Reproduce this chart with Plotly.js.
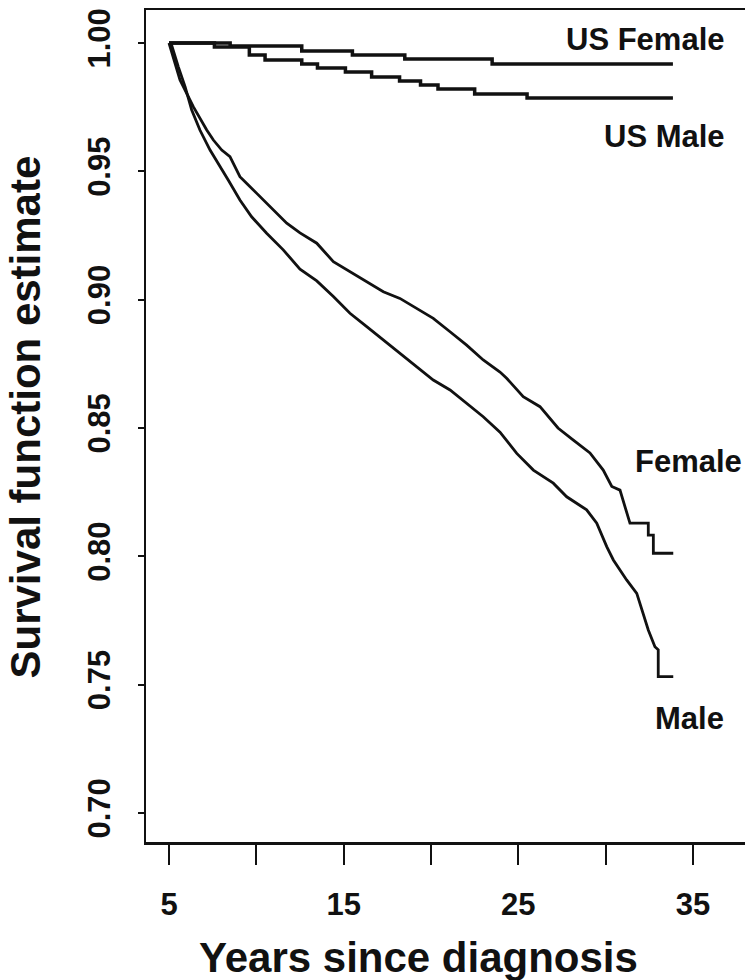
<!DOCTYPE html>
<html>
<head>
<meta charset="utf-8">
<script src="https://cdn.plot.ly/plotly-3.0.1.min.js"></script>
<style>
  html, body { margin: 0; padding: 0; background: #ffffff; }
  #chart { width: 745px; height: 980px; }
</style>
</head>
<body>
<div id="chart"></div>
<script>
// Kaplan-Meier survival estimates, conditional on surviving 5 years
const femaleYears = [5.00, 5.63, 6.39, 6.77, 7.16, 7.54, 8.02, 8.49, 9.06, 9.54, 10.02, 10.78, 11.74, 12.50, 13.46, 14.41, 15.36, 16.32, 17.27, 18.22, 19.18, 20.13, 21.09, 22.04, 22.99, 23.95, 24.33, 25.28, 26.24, 27.27, 28.15, 29.10, 29.86, 30.35, 30.82, 31.11, 31.39, 32.44, 32.44, 32.73, 32.73, 33.87];
const femaleSurv  = [1.0000, 0.9856, 0.9752, 0.9707, 0.9661, 0.9622, 0.9583, 0.9557, 0.9479, 0.9447, 0.9414, 0.9362, 0.9298, 0.9260, 0.9220, 0.9148, 0.9109, 0.9070, 0.9031, 0.9005, 0.8966, 0.8927, 0.8875, 0.8823, 0.8765, 0.8718, 0.8694, 0.8622, 0.8583, 0.8500, 0.8453, 0.8403, 0.8336, 0.8272, 0.8258, 0.8193, 0.8129, 0.8129, 0.8083, 0.8083, 0.8012, 0.8012];

const maleYears = [5.00, 5.15, 5.53, 5.92, 6.30, 6.77, 7.35, 7.82, 8.39, 9.06, 9.73, 10.59, 11.54, 12.50, 13.46, 14.41, 15.36, 16.32, 17.27, 18.22, 19.18, 20.13, 21.09, 22.04, 22.99, 23.95, 24.91, 25.86, 27.00, 27.77, 28.91, 29.49, 30.06, 30.44, 31.20, 31.78, 32.06, 32.44, 32.82, 33.01, 33.01, 33.87];
const maleSurv  = [1.0000, 0.9992, 0.9908, 0.9830, 0.9739, 0.9661, 0.9583, 0.9531, 0.9466, 0.9388, 0.9323, 0.9259, 0.9194, 0.9119, 0.9073, 0.9012, 0.8947, 0.8895, 0.8843, 0.8791, 0.8739, 0.8687, 0.8648, 0.8596, 0.8544, 0.8484, 0.8401, 0.8336, 0.8285, 0.8232, 0.8181, 0.8129, 0.8038, 0.7986, 0.7908, 0.7856, 0.7791, 0.7713, 0.7648, 0.7636, 0.7531, 0.7531];

// US general population (life table) survival, step function
const usFemaleYears = [5.0, 8.5, 12.6, 15.5, 18.5, 23.5, 33.85];
const usFemaleSurv  = [1.0000, 0.9988, 0.9969, 0.9953, 0.9938, 0.9918, 0.9918];
const usMaleYears = [5.0, 7.6, 9.6, 10.5, 12.6, 13.5, 15.1, 16.6, 18.2, 19.4, 20.4, 22.5, 25.5, 33.85];
const usMaleSurv  = [1.0000, 0.9984, 0.9953, 0.9934, 0.9918, 0.9903, 0.9887, 0.9868, 0.9852, 0.9836, 0.9821, 0.9801, 0.9786, 0.9786];

// Axis ticks
const xTickVals = [5, 10, 15, 20, 25, 30, 35];
const xTickText = ['5', '', '15', '', '25', '', '35'];
const yTickVals = [0.70, 0.75, 0.80, 0.85, 0.90, 0.95, 1.00];
const yTickText = ['0.70', '0.75', '0.80', '0.85', '0.90', '0.95', '1.00'];

// Curve labels
const curveLabels = ['US Female', 'US Male', 'Female', 'Male'];
const labelX = [36.95, 36.95, 31.56, 32.71];
const labelY = [1.0012, 0.9635, 0.8368, 0.7370];
const labelAnchor = ['right', 'right', 'left', 'left'];

const INK = '#111111';
const BOLD = 'Liberation Sans, Arial, Helvetica, sans-serif';
const NARROW = 'Liberation Sans Narrow, Arial Narrow, Liberation Sans, Arial, sans-serif';

const traces = [
  { x: usFemaleYears, y: usFemaleSurv, mode: 'lines', line: { color: INK, width: 3.5, shape: 'hv' }, name: 'US Female' },
  { x: usMaleYears, y: usMaleSurv, mode: 'lines', line: { color: INK, width: 3.5, shape: 'hv' }, name: 'US Male' },
  { x: femaleYears, y: femaleSurv, mode: 'lines', line: { color: INK, width: 2.8, shape: 'linear' }, name: 'Female' },
  { x: maleYears, y: maleSurv, mode: 'lines', line: { color: INK, width: 2.8, shape: 'linear' }, name: 'Male' }
];

const annotations = curveLabels.map((t, i) => ({
  text: t, x: labelX[i], y: labelY[i], xref: 'x', yref: 'y',
  xanchor: labelAnchor[i], yanchor: 'middle', showarrow: false,
  font: { family: BOLD, size: 31, color: INK, weight: 'bold' }
}));

annotations.push({
  text: 'Years since diagnosis', xref: 'paper', yref: 'paper', x: 0, y: 0,
  xshift: 272, yshift: -115, xanchor: 'center', yanchor: 'middle', showarrow: false,
  font: { family: BOLD, size: 42, color: INK, weight: 'bold' }
});
annotations.push({
  text: 'Survival function estimate', xref: 'paper', yref: 'paper', x: 0, y: 1,
  xshift: -121, yshift: -407.5, xanchor: 'center', yanchor: 'middle', textangle: -90, showarrow: false,
  font: { family: BOLD, size: 42, color: INK, weight: 'bold' }
});

const layout = {
  width: 745, height: 980,
  margin: { l: 146, r: 0, t: 10, b: 138, pad: 0 },
  paper_bgcolor: '#ffffff', plot_bgcolor: '#ffffff',
  showlegend: false,
  xaxis: {
    range: [3.683, 37.977], showgrid: false, zeroline: false,
    showline: true, mirror: true, linecolor: INK, linewidth: 2.5,
    ticks: 'outside', ticklen: 20, tickwidth: 2, tickcolor: INK,
    tickvals: xTickVals, ticktext: xTickText, ticklabelstandoff: 13,
    tickfont: { family: BOLD, size: 31, color: INK, weight: 'bold' }
  },
  yaxis: {
    range: [0.6887, 1.01286], showgrid: false, zeroline: false,
    showline: true, mirror: false, linecolor: INK, linewidth: 2.5,
    ticks: 'outside', ticklen: 6, tickwidth: 2, tickcolor: INK,
    tickvals: yTickVals, ticktext: yTickText, tickangle: -90, ticklabelstandoff: 15,
    tickfont: { family: NARROW, size: 31, color: INK, weight: 'bold' }
  },
  annotations: annotations
};

Plotly.newPlot('chart', traces, layout, { staticPlot: true, displayModeBar: false });
</script>
</body>
</html>
